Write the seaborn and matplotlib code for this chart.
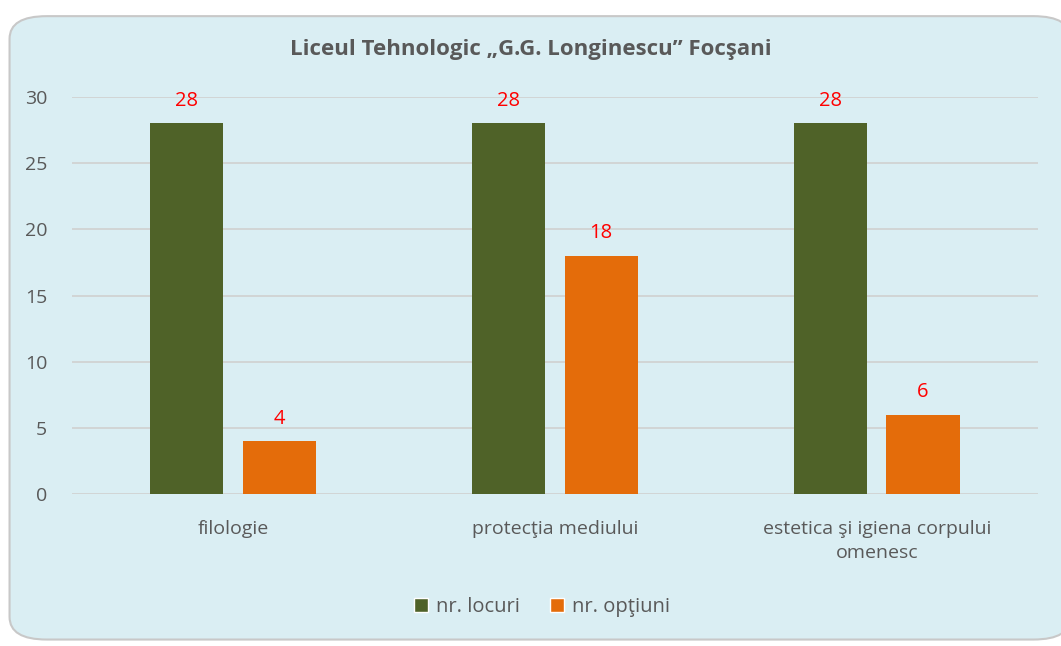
import matplotlib
matplotlib.use("Agg")
import matplotlib.pyplot as plt
from matplotlib.patches import FancyBboxPatch, Patch
import pandas as pd
import seaborn as sns

categories = ["filologie", "protecţia mediului", "estetica şi igiena corpului\nomenesc"]
locuri = [28, 28, 28]
optiuni = [4, 18, 6]
series = ["nr. locuri", "nr. opţiuni"]
colors = ["#4F6228", "#E46C0A"]

df = pd.DataFrame({
    "cat": categories * 2,
    "serie": [series[0]] * 3 + [series[1]] * 3,
    "val": locuri + optiuni,
})

sns.set_theme(style="white")
plt.rcParams["font.family"] = ["Open Sans", "DejaVu Sans"]
txt = "#595959"
bg = "#DAEEF3"

fig = plt.figure(figsize=(10.61, 6.46), dpi=100)
fig.patch.set_facecolor("white")
frame = FancyBboxPatch((0.009, 0.010), 1.0, 0.965,
                       boxstyle="round,pad=0,rounding_size=0.035",
                       transform=fig.transFigure, facecolor=bg,
                       edgecolor="#C8C8C8", linewidth=1.5, zorder=-5)
fig.patches.append(frame)

ax = fig.add_axes([0.068, 0.2353, 0.910, 0.6145])
ax.set_facecolor("none")
sns.barplot(data=df, x="cat", y="val", hue="serie", palette=colors,
            width=0.575, gap=0.21, ax=ax, legend=False, saturation=1,
            linewidth=0)

ax.set_ylim(0, 30)
ax.set_xlim(-0.5, 2.5)
ax.set_yticks(range(0, 31, 5))
ax.yaxis.grid(True, color="#D0D0D0", linewidth=1.2)
ax.set_axisbelow(True)
for s in ax.spines.values():
    s.set_visible(False)
ax.set_xlabel("")
ax.set_ylabel("")
ax.tick_params(axis="y", length=0, labelsize=14, labelcolor=txt, pad=18)
ax.tick_params(axis="x", length=0, labelsize=14, labelcolor=txt, pad=19)
for lab in ax.get_xticklabels():
    lab.set_linespacing(1.4)

for cont in ax.containers:
    ax.bar_label(cont, padding=9, color="red", fontsize=14.5)

fig.text(0.5, 0.924, "Liceul Tehnologic „G.G. Longinescu” Focşani",
         ha="center", va="center", fontsize=16, fontweight="bold", color=txt)

handles = [Patch(facecolor=c, label=l) for c, l in zip(colors, series)]
fig.legend(handles=handles, loc="center", bbox_to_anchor=(0.511, 0.06),
           ncol=2, frameon=False, fontsize=14.5, labelcolor=txt,
           handlelength=0.7, handleheight=0.7, columnspacing=1.5, handletextpad=0.4)

fig.savefig("out.png", dpi=100)
